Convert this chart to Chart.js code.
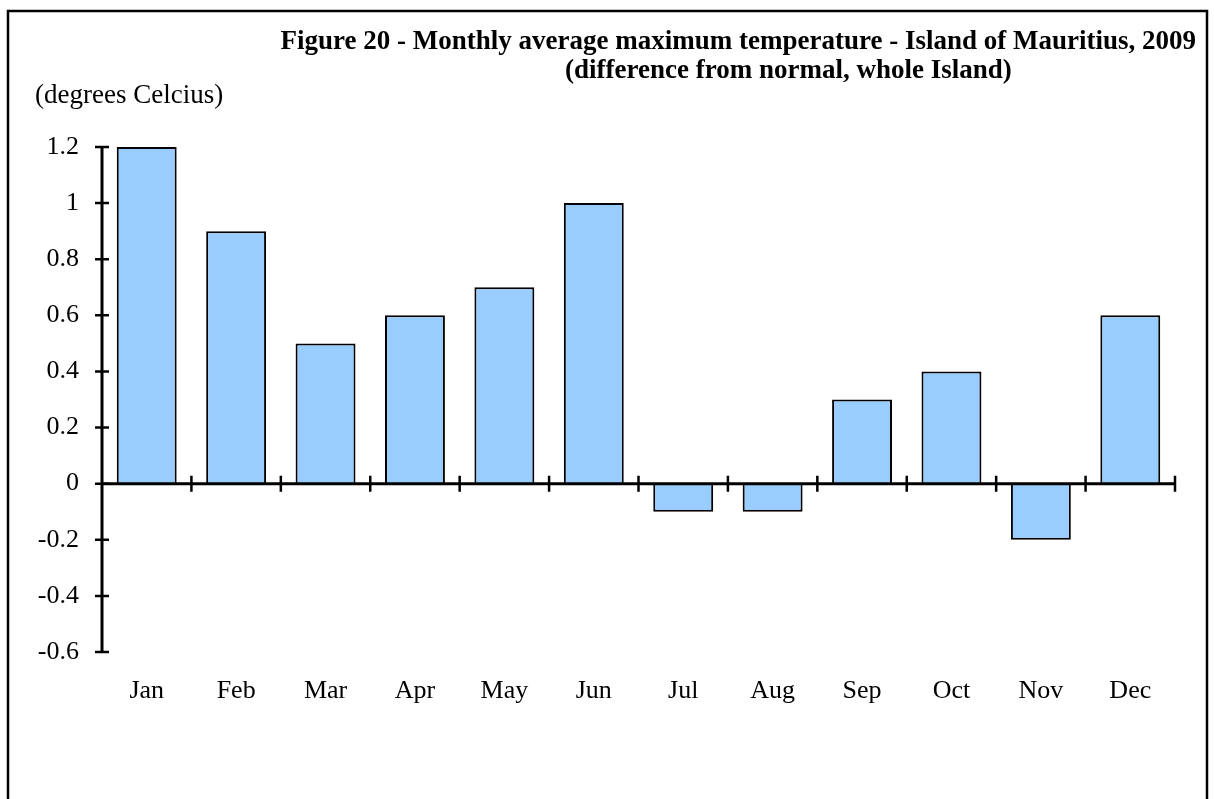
<!DOCTYPE html>
<html>
<head>
<meta charset="utf-8">
<script src="https://cdn.jsdelivr.net/npm/chart.js@4.4.1/dist/chart.umd.min.js"></script>
<style>
    html, body { margin: 0; padding: 0; background: #fff; }
    #wrap { width: 1214px; height: 799px; position: relative; }
</style>
</head>
<body>
<div id="wrap"><canvas id="tempChart"></canvas></div>
<script>
const months = ['Jan', 'Feb', 'Mar', 'Apr', 'May', 'Jun', 'Jul', 'Aug', 'Sep', 'Oct', 'Nov', 'Dec'];
const diffFromNormal = [1.2, 0.9, 0.5, 0.6, 0.7, 1.0, -0.1, -0.1, 0.3, 0.4, -0.2, 0.6];
const yTicks = [-0.6, -0.4, -0.2, 0, 0.2, 0.4, 0.6, 0.8, 1, 1.2];
const titleLines = ['Figure 20 - Monthly average maximum temperature - Island of Mauritius, 2009',
                    '(difference from normal, whole Island)'];
const unitLabel = '(degrees Celcius)';

const serif = '"Liberation Serif", "Times New Roman", serif';

// frame, titles, zero line and the little cross ticks
const decorations = {
    id: 'decorations',
    afterDraw(chart) {
        const ctx = chart.ctx;
        const x = chart.scales.x;
        const y = chart.scales.y;
        const area = chart.chartArea;
        ctx.save();

        ctx.strokeStyle = '#000';
        ctx.lineWidth = 2.5;
        ctx.strokeRect(8, 11, 1199, 820);

        ctx.fillStyle = '#000';
        ctx.font = 'bold 27px ' + serif;
        ctx.textAlign = 'right';
        ctx.textBaseline = 'middle';
        ctx.fillText(titleLines[0], 1196, 42);
        ctx.textAlign = 'left';
        ctx.fillText(titleLines[1], 565, 71);

        ctx.font = '27px ' + serif;
        ctx.fillText(unitLabel, 35, 96);

        // y axis
        ctx.lineWidth = 3;
        ctx.beginPath();
        ctx.moveTo(area.left, y.getPixelForValue(yTicks[yTicks.length - 1]));
        ctx.lineTo(area.left, y.getPixelForValue(yTicks[0]));
        ctx.stroke();
        ctx.lineWidth = 2.5;
        ctx.beginPath();
        yTicks.forEach(v => {
            const py = y.getPixelForValue(v);
            ctx.moveTo(area.left - 7, py);
            ctx.lineTo(area.left + 7, py);
        });
        ctx.stroke();

        // zero line with category separators
        const zero = y.getPixelForValue(0);
        ctx.lineWidth = 3;
        ctx.beginPath();
        ctx.moveTo(area.left, zero);
        ctx.lineTo(area.right, zero);
        ctx.stroke();
        ctx.lineWidth = 2.5;
        ctx.beginPath();
        const step = x.getPixelForValue(1) - x.getPixelForValue(0);
        for (let i = 0; i < months.length; i++) {
            const px = x.getPixelForValue(i) + step / 2;
            ctx.moveTo(px, zero - 8);
            ctx.lineTo(px, zero + 8);
        }
        ctx.stroke();
        ctx.restore();
    }
};

const ctx = document.getElementById('tempChart').getContext('2d');
const tempChart = new Chart(ctx, {
    type: 'bar',
    data: {
        labels: months,
        datasets: [{
            data: diffFromNormal,
            backgroundColor: '#99ccff',
            borderColor: '#000',
            borderWidth: 2,
            categoryPercentage: 1,
            barPercentage: 0.67
        }]
    },
    options: {
        responsive: true,
        maintainAspectRatio: false,
        animation: false,
        layout: { padding: { left: 0, top: 147, right: 39, bottom: 0 } },
        plugins: {
            legend: { display: false },
            tooltip: { enabled: false }
        },
        scales: {
            x: {
                grid: { display: false, drawTicks: false },
                border: { display: false },
                ticks: { color: '#000', font: { family: serif, size: 26 }, padding: 24, maxRotation: 0 },
                afterFit: (scale) => { scale.height = 147; }
            },
            y: {
                min: -0.6,
                max: 1.2,
                grid: { display: false, drawTicks: false },
                border: { display: false },
                ticks: {
                    stepSize: 0.2,
                    color: '#000',
                    font: { family: serif, size: 26 },
                    padding: 23,
                    callback: (v) => String(Number(v.toFixed(1)))
                },
                afterFit: (scale) => { scale.width = 102; }
            }
        }
    },
    plugins: [decorations]
});
</script>
</body>
</html>
